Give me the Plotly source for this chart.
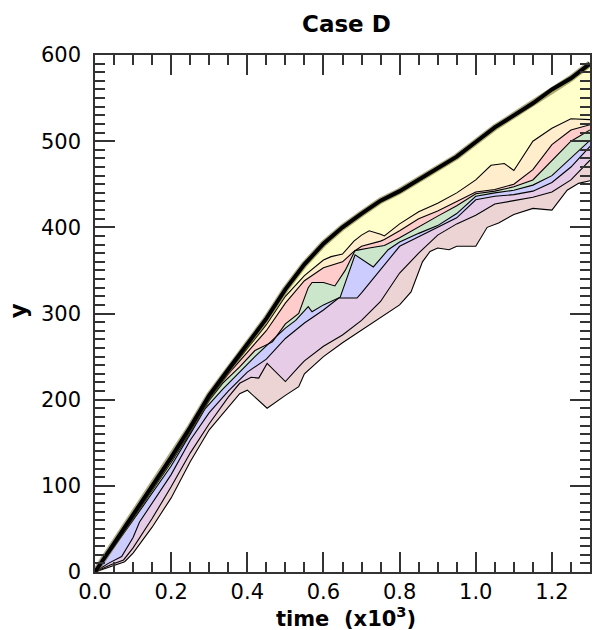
import plotly.graph_objects as go

# ---- data (time in 10^3 units, y values) ----
t_top = [0, 0.05, 0.1, 0.15, 0.2, 0.25, 0.3, 0.35, 0.4, 0.45, 0.5, 0.55, 0.6, 0.65, 0.7,
         0.75, 0.8, 0.85, 0.9, 0.95, 1.0, 1.05, 1.1, 1.15, 1.2, 1.25, 1.3]
v_top = [0, 33, 66, 99, 133, 168, 205, 235, 264, 294, 328, 357, 381, 400, 416,
         431, 442, 455, 468, 482, 499, 516, 530, 544, 560, 573, 590]

t_c6 = [0, 0.05, 0.1, 0.15, 0.2, 0.25, 0.3, 0.35, 0.4, 0.45, 0.5, 0.55, 0.6, 0.62, 0.65, 0.68,
        0.7, 0.72, 0.75, 0.76, 0.8, 0.85, 0.9, 0.95, 1.0, 1.04, 1.075, 1.1, 1.15, 1.2, 1.25, 1.3]
v_c6 = [0, 32, 65, 98, 131, 166, 203, 232, 260, 287, 320, 344, 362, 366, 369, 384,
        391, 396, 392, 390, 404, 418, 428, 440, 455, 472, 474, 466, 500, 515, 526, 525]

t_c5 = [0, 0.05, 0.1, 0.15, 0.2, 0.25, 0.3, 0.35, 0.4, 0.45, 0.5, 0.55, 0.6, 0.65, 0.68, 0.7,
        0.75, 0.76, 0.8, 0.85, 0.9, 0.95, 1.0, 1.05, 1.1, 1.15, 1.2, 1.25, 1.3]
v_c5 = [0, 31, 64, 97, 130, 164, 201, 230, 255, 280, 312, 338, 353, 360, 372, 378,
        384, 386, 396, 410, 419, 430, 441, 444, 450, 467, 496, 513, 519]

t_c4 = [0, 0.05, 0.1, 0.15, 0.2, 0.25, 0.3, 0.335, 0.38, 0.42, 0.466, 0.5, 0.535, 0.56, 0.57,
        0.6, 0.614, 0.63, 0.657, 0.683, 0.72, 0.75, 0.76, 0.8, 0.85, 0.9, 0.95, 1.0, 1.05,
        1.1, 1.15, 1.2, 1.25, 1.3]
v_c4 = [0, 30, 62, 94, 127, 162, 199, 219, 238, 257, 267, 288, 300, 330, 336,
        336, 334, 332, 350, 373, 376, 378, 379, 388, 401, 413, 425, 439, 442,
        447, 455, 478, 500, 513]

t_c3 = [0, 0.05, 0.1, 0.15, 0.2, 0.25, 0.29, 0.335, 0.38, 0.42, 0.466, 0.5, 0.527, 0.56, 0.57,
        0.6, 0.644, 0.683, 0.731, 0.77, 0.8, 0.85, 0.9, 0.95, 1.0, 1.05, 1.1, 1.15, 1.2,
        1.25, 1.3]
v_c3 = [0, 29, 60, 91, 123, 160, 190, 212, 232, 250, 269, 283, 292, 308, 302,
        310, 319, 368, 354, 374, 383, 393, 402, 416, 436, 440, 443, 449, 460,
        480, 501]

t_c2 = [0, 0.035, 0.07, 0.1, 0.117, 0.15, 0.178, 0.2, 0.25, 0.3, 0.35, 0.4, 0.45, 0.5, 0.55,
        0.6, 0.64, 0.688, 0.7, 0.75, 0.8, 0.85, 0.9, 0.95, 1.0, 1.05, 1.1, 1.15, 1.2, 1.25, 1.3]
v_c2 = [0, 10, 18, 40, 58, 80, 99, 113, 153, 185, 210, 232, 247, 271, 289,
        304, 318, 318, 324, 351, 378, 389, 400, 411, 432, 436, 438, 442, 452, 470, 494]

t_c1 = [0, 0.04, 0.075, 0.1, 0.15, 0.2, 0.25, 0.3, 0.35, 0.38, 0.41, 0.43, 0.452, 0.5, 0.535,
        0.55, 0.6, 0.65, 0.7, 0.75, 0.8, 0.85, 0.9, 0.95, 1.0, 1.05, 1.1, 1.15, 1.2, 1.25, 1.3]
v_c1 = [0, 8, 14, 28, 62, 99, 138, 172, 203, 219, 226, 225, 242, 221, 238,
        245, 262, 275, 292, 314, 347, 370, 391, 404, 414, 427, 431, 435, 441, 455, 478]

t_c0 = [0, 0.04, 0.078, 0.1, 0.15, 0.2, 0.25, 0.3, 0.35, 0.38, 0.4, 0.452, 0.5, 0.535, 0.55,
        0.6, 0.65, 0.7, 0.75, 0.8, 0.83, 0.86, 0.88, 0.9, 0.93, 0.95, 1.0, 1.03, 1.06, 1.1,
        1.15, 1.2, 1.24, 1.27, 1.3]
v_c0 = [0, 6, 12, 22, 52, 86, 128, 165, 192, 207, 211, 190, 205, 215, 230,
        250, 266, 281, 295, 310, 325, 360, 372, 376, 374, 378, 378, 400, 405, 415,
        422, 420, 443, 451, 454]

band_colors = ["#edd4d4", "#e6cce6", "#ccccff", "#cce6cc", "#ffcccc", "#ffedcc", "#ffffcc"]
x_ticks = [0.0, 0.2, 0.4, 0.6, 0.8, 1.0, 1.2]
y_ticks = [0, 100, 200, 300, 400, 500, 600]

curves = [(t_c0, v_c0), (t_c1, v_c1), (t_c2, v_c2), (t_c3, v_c3),
          (t_c4, v_c4), (t_c5, v_c5), (t_c6, v_c6), (t_top, v_top)]

fig = go.Figure()
# filled bands
for i, (tx, vy) in enumerate(curves):
    fig.add_trace(go.Scatter(
        x=tx, y=vy, mode="lines", line=dict(width=0, color="black"),
        fill=None if i == 0 else "tonexty",
        fillcolor=None if i == 0 else band_colors[i - 1],
        hoverinfo="skip"))
# boundary lines
for i, (tx, vy) in enumerate(curves[:-1]):
    fig.add_trace(go.Scatter(x=tx, y=vy, mode="lines",
                             line=dict(width=1.1, color="black"), hoverinfo="skip"))
# top envelope
fig.add_trace(go.Scatter(x=t_top, y=v_top, mode="lines",
                         line=dict(width=6.5, color="rgba(110,100,30,0.55)"), hoverinfo="skip"))
fig.add_trace(go.Scatter(x=t_top, y=v_top, mode="lines",
                         line=dict(width=4, color="black"), hoverinfo="skip"))

axis_common = dict(
    ticks="inside", ticklen=20, tickwidth=1.5, tickcolor="#333",
    showline=True, linecolor="#333", linewidth=1.5, mirror="allticks",
    showgrid=False, zeroline=False,
    tickfont=dict(family="DejaVu Sans", size=21, color="black"),
)
fig.update_xaxes(range=[0, 1.3], tickvals=x_ticks, ticktext=[f"{v:.1f}" for v in x_ticks],
                 minor=dict(ticks="inside", ticklen=10, dtick=0.05, tick0=0,
                            tickcolor="#333", tickwidth=1.5, showgrid=False),
                 **axis_common)
fig.update_yaxes(range=[0, 600], tickvals=y_ticks, ticktext=[str(v) for v in y_ticks],
                 minor=dict(ticks="inside", ticklen=10, dtick=10, tick0=0,
                            tickcolor="#333", tickwidth=1.5, showgrid=False),
                 ticklabelstandoff=8,
                 **axis_common)

W, H = 592, 630
L, R, T, B = 95, 0, 55, 58
pw, ph = W - L - R, H - T - B


def px_ann(text, x_px, y_px, angle=0, size=23):
    return dict(text=text, xref="paper", yref="paper",
                x=(x_px - L) / pw, y=((H - y_px) - B) / ph,
                xanchor="center", yanchor="middle", textangle=angle,
                showarrow=False, font=dict(family="DejaVu Sans", size=size, color="black"))


fig.update_layout(
    width=W, height=H,
    margin=dict(l=L, r=R, t=T, b=B, pad=0),
    plot_bgcolor="white", paper_bgcolor="white",
    showlegend=False,
    font=dict(family="DejaVu Sans", size=20, color="black"),
    annotations=[
        px_ann("<b>Case D</b>", 348, 24),
        px_ann("<b>time\u00a0 (x10<sup>3</sup>)</b>", 347, 617, size=21),
        px_ann("<b>y</b>", 18, 311, -90),
    ],
)

fig.write_html("out.html")
